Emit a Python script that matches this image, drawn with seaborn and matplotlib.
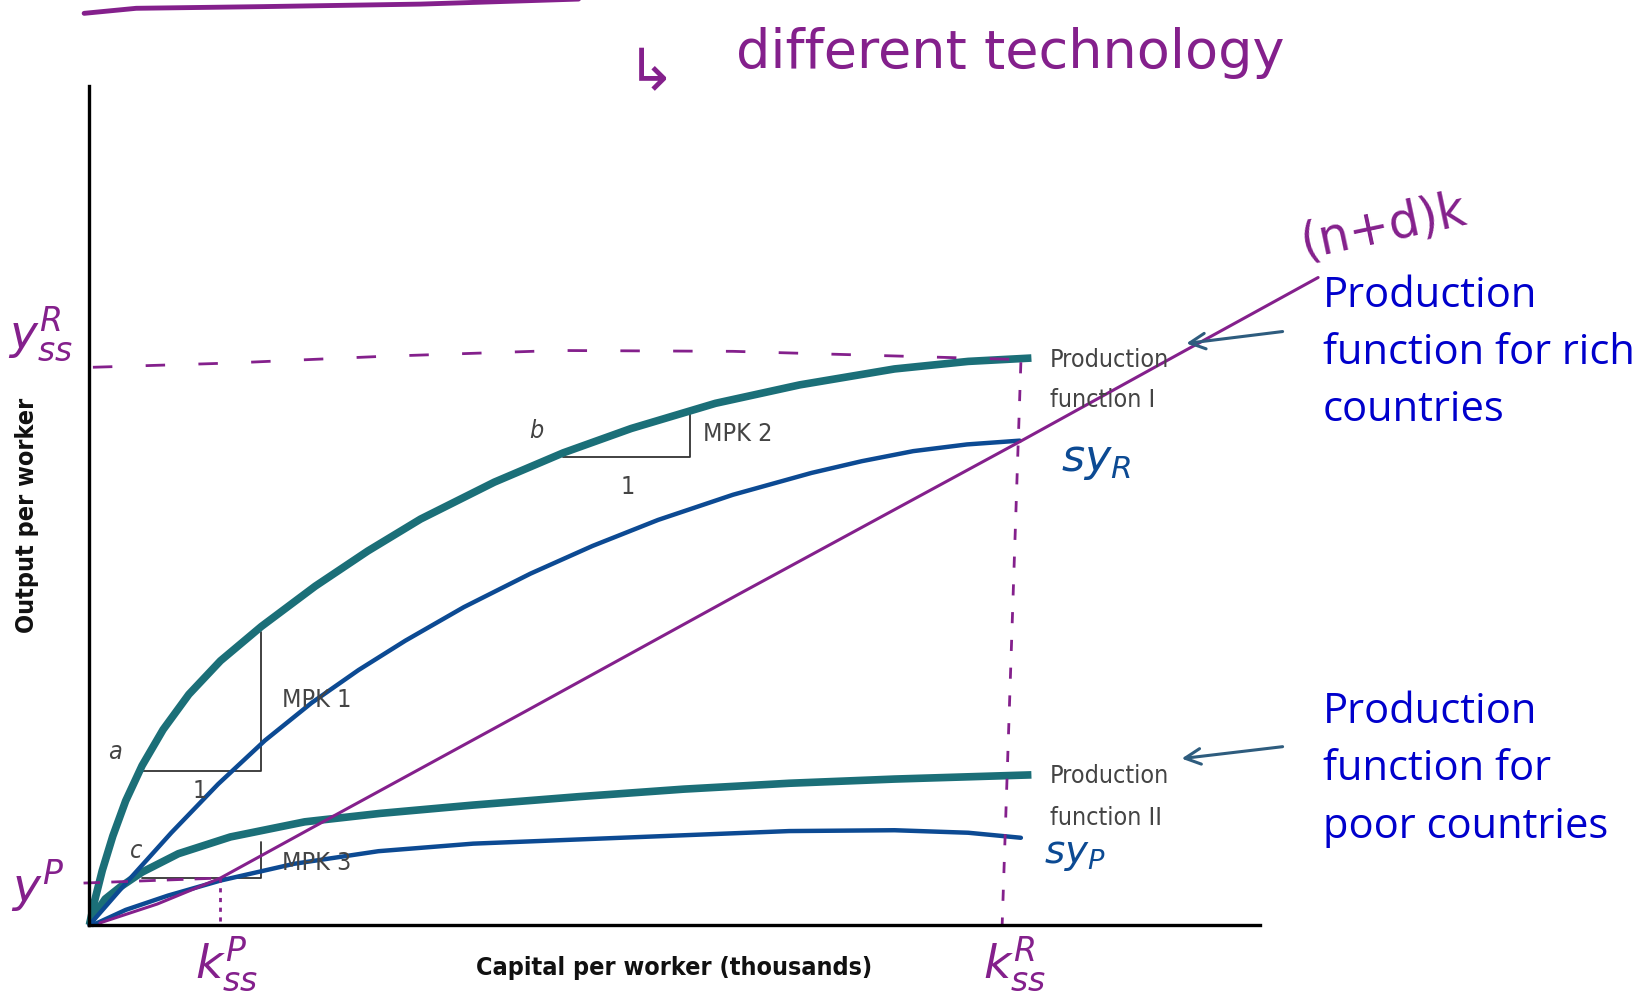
import matplotlib
matplotlib.use("Agg")
import matplotlib.pyplot as plt
import seaborn as sns
import pandas as pd

sns.set_style("white")
plt.rcParams["font.family"] = ["DejaVu Sans"]

# capital per worker (0-100) and output per worker (0-100)
prod1_k = [0, 0.45, 1.1, 2.0, 3.1, 4.5, 6.3, 8.5, 11.2, 14.7, 19.3, 23.8, 28.3, 34.6, 40.5, 46.3, 53.5, 60.7, 68.8, 75.1, 80.5]
prod1_y = [0, 2.9, 6.5, 10.6, 14.8, 19.0, 23.3, 27.5, 31.5, 35.6, 40.4, 44.6, 48.4, 52.8, 56.3, 59.2, 62.2, 64.4, 66.3, 67.2, 67.6]

prod2_k = [0, 0.45, 1.35, 2.7, 4.5, 7.6, 12.05, 18.4, 24.8, 32.8, 41.8, 50.8, 59.8, 68.8, 80.5]
prod2_y = [0, 1.25, 3.1, 4.6, 6.3, 8.5, 10.5, 12.3, 13.3, 14.3, 15.3, 16.2, 16.9, 17.4, 17.9]

syr_k = [0, 3, 7, 11, 15, 19, 23, 27, 32, 37.7, 43, 48.6, 55, 61.7, 66, 70.4, 75, 79.5]
syr_y = [0, 4.8, 11.0, 16.8, 22.0, 26.5, 30.4, 33.9, 37.9, 41.9, 45.2, 48.3, 51.3, 53.9, 55.3, 56.5, 57.3, 57.75]

syp_k = [0.3, 3.1, 6.7, 11.2, 17.5, 24.7, 32.8, 41.8, 50.8, 59.8, 68.8, 75.1, 79.6]
syp_y = [0, 1.8, 3.5, 5.3, 7.3, 8.8, 9.7, 10.2, 10.7, 11.2, 11.3, 11.0, 10.4]

dep_k = [0.9, 5.8, 11.2, 19.3, 37.3, 55.3, 79.6, 91.3, 105.0]
dep_y = [0.25, 2.5, 5.6, 11.8, 25.5, 39.3, 57.7, 66.7, 77.2]

# hand drawn guide lines
yr_k = [0.3, 12, 25, 40, 55, 70, 80]
yr_y = [66.5, 67.0, 67.8, 68.5, 68.4, 67.8, 67.4]
yp_k = [-0.5, 11.2]
yp_y = [5.0, 5.6]
kp_k = [11.2, 11.2]
kp_y = [5.6, 0]
kr_k = [79.6, 78.0]
kr_y = [67.1, 0]
top_k = [-0.45, 4.0, 14.8, 28.3, 41.8]
top_y = [108.7, 109.3, 109.5, 109.8, 110.4]

# MPK triangles
mpk1_k = [4.5, 14.7, 14.7]
mpk1_y = [18.4, 18.4, 34.9]
mpk2_k = [40.5, 51.3, 51.3]
mpk2_y = [55.8, 55.8, 60.9]
mpk3_k = [4.5, 14.7, 14.7]
mpk3_y = [5.6, 5.6, 9.9]

teal = "#1B6F78"
blue = "#0C4A93"
purple = "#84208C"
txtblue = "#0000CC"

fig = plt.figure(figsize=(16.5, 10.03), dpi=100)
ax = fig.add_axes([89.4 / 1650, 1 - 926 / 1003, 1170.2 / 1650, 838.7 / 1003])
ax.set_xlim(0, 100)
ax.set_ylim(0, 100)


def curve(k, y, color, lw, **kw):
    df = pd.DataFrame({"k": k, "y": y})
    sns.lineplot(data=df, x="k", y="y", sort=False, estimator=None, ax=ax,
                 color=color, lw=lw, clip_on=False, **kw)


for k, y in [(mpk1_k, mpk1_y), (mpk2_k, mpk2_y), (mpk3_k, mpk3_y)]:
    curve(k, y, "#333333", 1.3)

curve(prod1_k, prod1_y, teal, 5.5, solid_capstyle="butt")
curve(prod2_k, prod2_y, teal, 5.5, solid_capstyle="butt")
curve(syr_k, syr_y, blue, 3.2)
curve(syp_k, syp_y, blue, 3.2)
curve(dep_k, dep_y, purple, 2.2)

curve(yr_k, yr_y, purple, 2.0, linestyle=(0, (7, 12)))
curve(yp_k, yp_y, purple, 2.0, linestyle=(0, (6, 4)))
curve(kp_k, kp_y, purple, 2.0, linestyle=(0, (1.5, 2)))
curve(kr_k, kr_y, purple, 2.0, linestyle=(0, (4, 6)))
curve(top_k, top_y, purple, 3.5)

for s in ["top", "right"]:
    ax.spines[s].set_visible(False)
for s in ["left", "bottom"]:
    ax.spines[s].set_color("black")
    ax.spines[s].set_linewidth(2.4)
ax.set_xticks([])
ax.set_yticks([])
ax.set_xlabel("")
ax.set_ylabel("")

narrow = dict(family=["Liberation Sans Narrow", "DejaVu Sans"], fontstretch="condensed")
ax.text(50, -5, "Capital per worker (thousands)", ha="center", va="center",
        fontsize=18, fontweight="bold", color="#111111", **narrow)
ax.text(-5.3, 49, "Output per worker", ha="center", va="center", rotation=90,
        fontsize=18, fontweight="bold", color="#111111", **narrow)

gray = "#444444"
for x, y, s, it in [(2.2, 20.7, "a", True), (9.4, 16.1, "1", False), (16.5, 27.0, "MPK 1", False),
                    (38.2, 59.0, "b", True), (46.0, 52.4, "1", False), (52.4, 58.7, "MPK 2", False),
                    (4.0, 9.0, "c", True), (16.5, 7.5, "MPK 3", False)]:
    ax.text(x, y, s, ha="center" if len(s) == 1 else "left", va="center", fontsize=18,
            color=gray, fontstyle="italic" if it else "normal", **narrow)

ax.text(82.1, 67.5, "Production", va="center", fontsize=18, color=gray, **narrow)
ax.text(82.1, 62.7, "function I", va="center", fontsize=18, color=gray, **narrow)
ax.text(82.1, 17.9, "Production", va="center", fontsize=18, color=gray, **narrow)
ax.text(82.1, 12.9, "function II", va="center", fontsize=18, color=gray, **narrow)

note_font = ["Open Sans", "DejaVu Sans"]
for y, s in [(75.7, "Production"), (68.9, "function for rich"), (62.1, "countries"),
             (26.1, "Production"), (19.3, "function for"), (12.4, "poor countries")]:
    ax.text(105.4, y, s, va="center_baseline", ha="left", fontsize=30,
            family=note_font, color=txtblue)

arrow = dict(arrowstyle="->", color="#2E5C7E", lw=2.2, mutation_scale=28)
ax.annotate("", xy=(93.5, 69.3), xytext=(102.2, 70.8), arrowprops=arrow, annotation_clip=False)
ax.annotate("", xy=(93.1, 19.8), xytext=(102.2, 21.3), arrowprops=arrow, annotation_clip=False)

# handwritten notes
ax.text(48.0, 101.6, "↳", ha="center", va="center", fontsize=42, color=purple)
ax.text(78.7, 104.1, "different technology", ha="center", va="center", fontsize=39,
        color=purple)
ax.text(110.6, 83.4, "(n+d)k", ha="center", va="center", fontsize=35, color=purple, rotation=12)
ax.text(-4.2, 70.5, r"$y^{R}_{ss}$", ha="center", va="center", fontsize=34, color=purple)
ax.text(-4.4, 4.8, r"$y^{P}$", ha="center", va="center", fontsize=34, color=purple)
ax.text(11.7, -4.6, r"$k^{P}_{ss}$", ha="center", va="center", fontsize=34, color=purple)
ax.text(79.1, -4.6, r"$k^{R}_{ss}$", ha="center", va="center", fontsize=34, color=purple)
ax.text(86.0, 55.5, r"$sy_{R}$", ha="center", va="center", fontsize=32, color=blue, fontweight="bold")
ax.text(84.2, 8.6, r"$sy_{P}$", ha="center", va="center", fontsize=28, color=blue, fontweight="bold")

fig.savefig("out.png", dpi=100)
